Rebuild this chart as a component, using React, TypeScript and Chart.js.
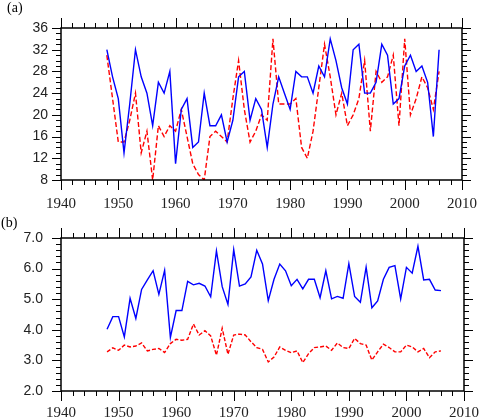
import { useEffect, useRef } from 'react';
import { Chart, registerables } from 'chart.js';

Chart.register(...registerables);

const YEARS = [
  1948, 1949, 1950, 1951, 1952, 1953, 1954, 1955, 1956, 1957,
  1958, 1959, 1960, 1961, 1962, 1963, 1964, 1965, 1966, 1967,
  1968, 1969, 1970, 1971, 1972, 1973, 1974, 1975, 1976, 1977,
  1978, 1979, 1980, 1981, 1982, 1983, 1984, 1985, 1986, 1987,
  1988, 1989, 1990, 1991, 1992, 1993, 1994, 1995, 1996, 1997,
  1998, 1999, 2000, 2001, 2002, 2003, 2004, 2005, 2006,
];

// panel (a)
const A_BLUE = [
  32, 27, 23, 13, 22, 32, 27, 24, 18, 26,
  24, 28, 11, 21, 23, 14, 15, 24, 18, 18,
  20, 15, 19, 27, 28, 19, 23, 21, 14, 22,
  27, 24, 21, 28, 27, 27, 24, 29, 27, 34,
  30, 25, 22, 32, 33, 24, 24, 26, 33, 31,
  22, 23, 29, 31, 28, 29, 26, 16, 32,
];
const A_RED = [
  31, 23, 15, 15, 19, 24, 13, 17, 8, 18,
  16, 18, 17, 21, 16, 11, 9, 8, 16, 17,
  16, 15, 23, 30, 21, 15, 17, 20, 19, 34,
  22, 22, 22, 23, 14, 12, 17, 25, 33, 27,
  20, 24, 18, 20, 23, 30, 17, 28, 26, 27,
  31, 18, 34, 20, 23, 27, 25, 21, 28,
];

// panel (b)
const B_BLUE = [
  4.02, 4.43, 4.43, 3.77, 5.03, 4.37, 5.32, 5.63, 5.93, 5.16,
  5.94, 3.75, 4.63, 4.63, 5.58, 5.47, 5.52, 5.43, 5.08, 6.58,
  5.41, 4.83, 6.62, 5.43, 5.5, 5.73, 6.6, 6.15, 4.95, 5.65,
  6.15, 5.93, 5.44, 5.65, 5.34, 5.65, 5.65, 5.05, 5.93, 5.01,
  5.09, 5.03, 6.16, 5.09, 4.9, 6.05, 4.72, 4.94, 5.65, 6.04,
  6.1, 5.01, 6.04, 5.85, 6.73, 5.63, 5.65, 5.3, 5.28,
];
const B_RED = [
  3.28, 3.41, 3.33, 3.5, 3.44, 3.47, 3.57, 3.31, 3.36, 3.39,
  3.26, 3.55, 3.69, 3.66, 3.69, 4.19, 3.83, 3.97, 3.8, 3.17,
  4.05, 3.2, 3.83, 3.86, 3.83, 3.61, 3.42, 3.36, 2.95, 3.11,
  3.44, 3.33, 3.25, 3.31, 2.93, 3.22, 3.42, 3.44, 3.47, 3.33,
  3.57, 3.42, 3.39, 3.72, 3.55, 3.5, 3.01, 3.28, 3.53, 3.42,
  3.28, 3.28, 3.5, 3.44, 3.28, 3.39, 3.09, 3.28, 3.31,
];

// frame plus outward major/minor ticks on all four sides
const frameTicks = {
  id: 'frameTicks',
  afterDraw(chart: any, _args: any, opts: any) {
    const { ctx, chartArea } = chart;
    const { left, right, top, bottom } = chartArea;
    const xs = chart.scales.x;
    const ys = chart.scales.y;
    const seg = (x1: number, y1: number, x2: number, y2: number) => {
      ctx.beginPath();
      ctx.moveTo(x1, y1);
      ctx.lineTo(x2, y2);
      ctx.stroke();
    };
    ctx.save();
    ctx.strokeStyle = '#000';
    ctx.lineWidth = 1;
    for (let v = xs.min; v <= xs.max; v += 2) {
      const px = Math.round(xs.getPixelForValue(v)) + 0.5;
      const len = v % 10 === 0 ? 10 : 5;
      seg(px, top, px, top - len);
      seg(px, bottom, px, bottom + len);
    }
    const n = Math.round((ys.max - ys.min) / opts.minor);
    const every = Math.round(opts.major / opts.minor);
    for (let i = 0; i <= n; i++) {
      const py = Math.round(ys.getPixelForValue(ys.min + i * opts.minor)) + 0.5;
      const len = i % every === 0 ? 9 : 5;
      seg(left, py, left - len, py);
      seg(right, py, right + len, py);
    }
    ctx.lineWidth = 1.5;
    ctx.strokeRect(left, top, right - left, bottom - top);
    ctx.restore();
  },
};

interface PanelProps {
  tag: string;
  tagLeft: number;
  blue: number[];
  red: number[];
  yMin: number;
  yMax: number;
  yStep: number;
  yMinor: number;
  digits: number;
  height: number;
  padTop: number;
  xAxisH: number;
  yLabelPad: number;
  xLabelPad: number;
  dash: number[];
}

function Panel(p: PanelProps) {
  const canvasRef = useRef<HTMLCanvasElement>(null);

  useEffect(() => {
    const ctx = canvasRef.current?.getContext('2d');
    if (!ctx) return;

    const chart = new Chart(ctx, {
      type: 'line',
      data: {
        datasets: [
          {
            data: YEARS.map((x, i) => ({ x, y: p.blue[i] })),
            borderColor: '#0000ff',
            borderWidth: 1.4,
            pointRadius: 0,
            tension: 0,
          },
          {
            data: YEARS.map((x, i) => ({ x, y: p.red[i] })),
            borderColor: '#ff0000',
            borderWidth: 1.4,
            borderDash: p.dash,
            pointRadius: 0,
            tension: 0,
          },
        ],
      },
      options: {
        animation: false,
        responsive: true,
        maintainAspectRatio: false,
        layout: { padding: { left: 0, right: 18, top: p.padTop, bottom: 0 } },
        plugins: {
          legend: { display: false },
          tooltip: { enabled: false },
          frameTicks: { major: p.yStep, minor: p.yMinor },
        } as any,
        scales: {
          x: {
            type: 'linear',
            min: 1940,
            max: 2010,
            afterFit: (s: any) => {
              s.height = p.xAxisH;
            },
            ticks: {
              stepSize: 10,
              autoSkip: false,
              maxRotation: 0,
              padding: p.xLabelPad,
              color: '#222',
              font: { family: 'Liberation Serif', size: 15 },
              callback: (v) => String(v),
            },
            grid: { drawOnChartArea: false, drawTicks: true, tickLength: 10, color: 'rgba(0,0,0,0)' },
            border: { display: false },
          },
          y: {
            min: p.yMin,
            max: p.yMax,
            afterFit: (s: any) => {
              s.width = 61;
            },
            ticks: {
              stepSize: p.yStep,
              padding: p.yLabelPad,
              color: '#222',
              font: { family: 'Liberation Sans', size: 14 },
              callback: (v) => Number(v).toFixed(p.digits),
            },
            grid: { drawOnChartArea: false, drawTicks: true, tickLength: 9, color: 'rgba(0,0,0,0)' },
            border: { display: false },
          },
        },
      },
      plugins: [frameTicks],
    });

    return () => {
      chart.destroy();
    };
  }, []);

  return (
    <div style={{ position: 'relative', width: 482, height: p.height }}>
      <div
        style={{
          position: 'absolute',
          left: p.tagLeft,
          top: 0,
          fontFamily: 'Liberation Serif',
          fontSize: 14,
          lineHeight: '16px',
          color: '#000',
        }}
      >
        {p.tag}
      </div>
      <canvas ref={canvasRef} />
    </div>
  );
}

export default function App() {
  return (
    <div style={{ position: 'absolute', left: 0, top: 0, width: 482, height: 419, background: '#fff' }}>
      <Panel
        tag="(a)"
        tagLeft={7}
        blue={A_BLUE}
        red={A_RED}
        yMin={8}
        yMax={36}
        yStep={4}
        yMinor={1}
        digits={0}
        height={215}
        padTop={28}
        xAxisH={35}
        yLabelPad={4}
        xLabelPad={5}
        dash={[5, 2.5]}
      />
      <Panel
        tag="(b)"
        tagLeft={1}
        blue={B_BLUE}
        red={B_RED}
        yMin={2}
        yMax={7}
        yStep={1}
        yMinor={0.2}
        digits={1}
        height={204}
        padTop={23}
        xAxisH={28}
        yLabelPad={9}
        xLabelPad={3}
        dash={[4, 2]}
      />
    </div>
  );
}
